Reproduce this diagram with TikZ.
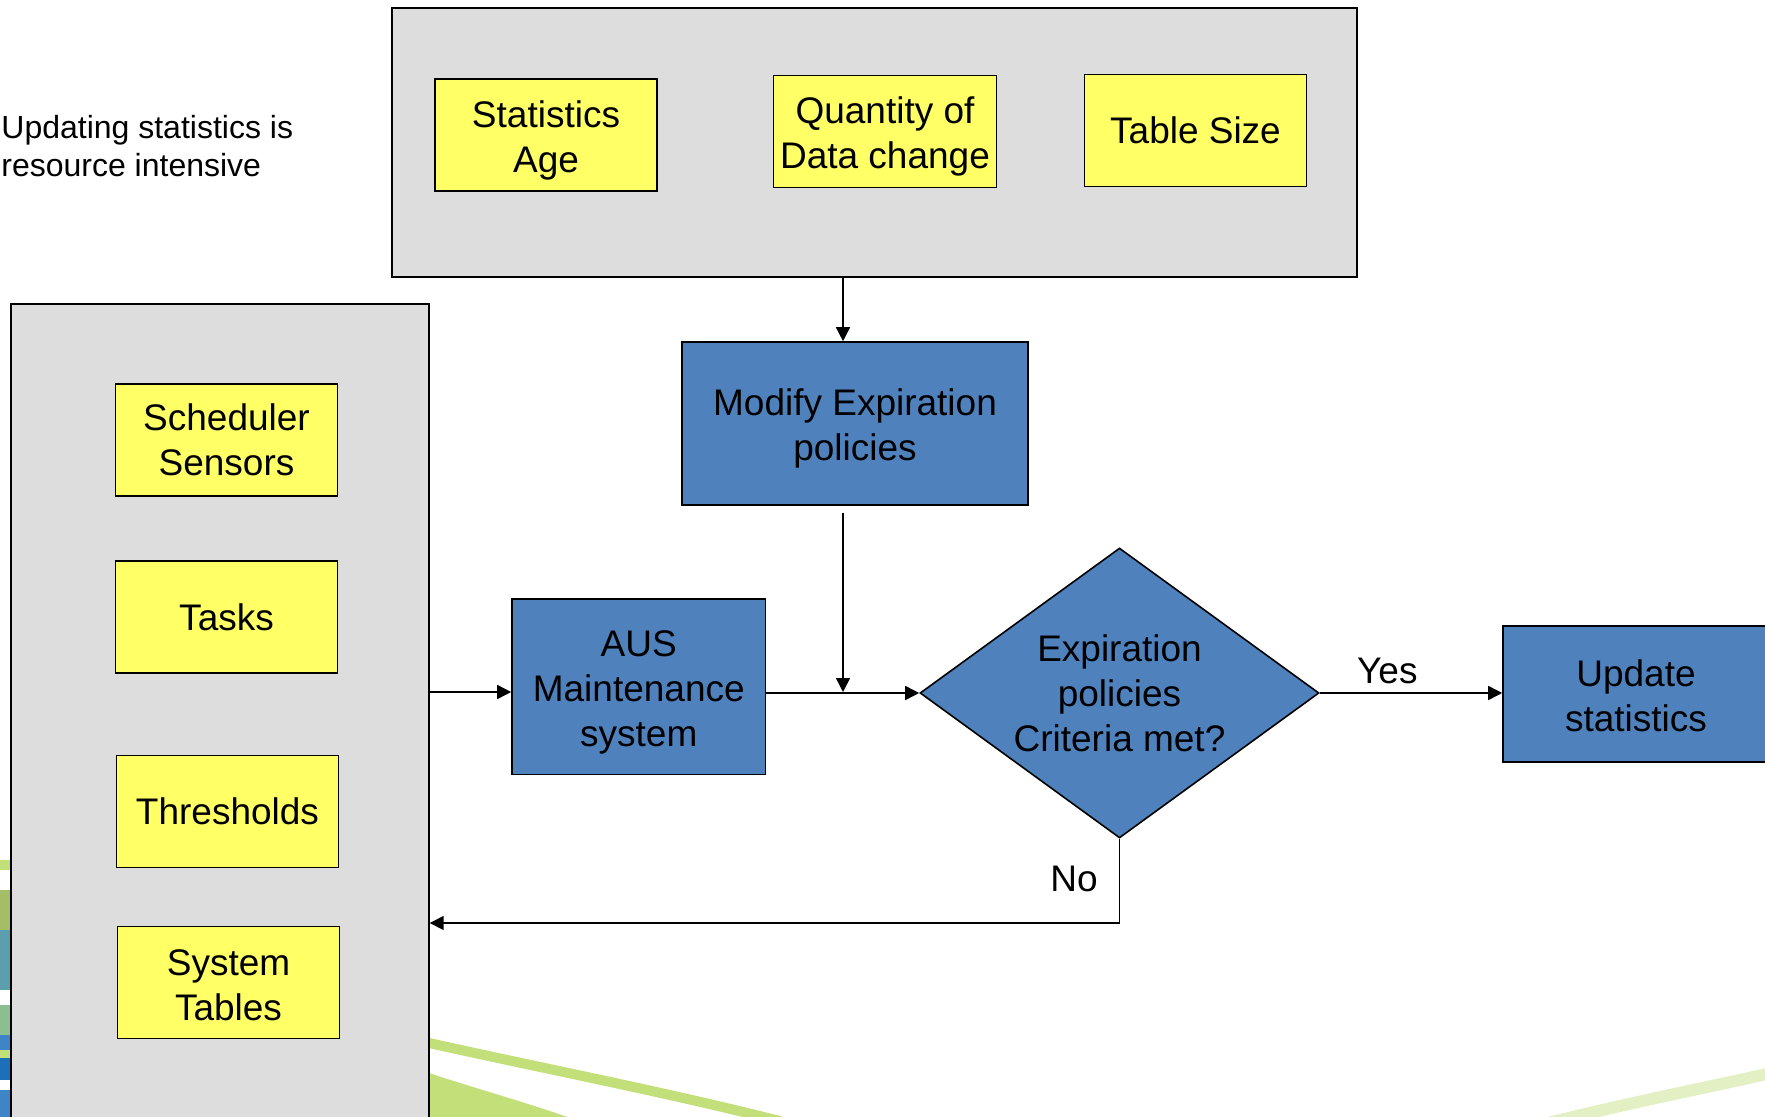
\documentclass[tikz,border=0pt]{standalone}
\usepackage{fontspec}
\setmainfont{Liberation Sans}
\usetikzlibrary{arrows.meta, shapes.geometric}

\definecolor{panelgray}{RGB}{221,221,221}
\definecolor{noteyellow}{RGB}{255,255,102}
\definecolor{stepblue}{RGB}{79,129,189}
\definecolor{swoosh}{RGB}{195,223,122}
\definecolor{paleswoosh}{RGB}{226,240,196}
\definecolor{edgeteal}{RGB}{91,158,174}
\definecolor{edgesage}{RGB}{141,190,143}
\definecolor{edgeblue}{RGB}{61,133,198}
\definecolor{edgedeep}{RGB}{28,111,184}

\tikzset{
	panel/.style={draw, fill=panelgray, line width=0.7pt},
	note/.style={draw, fill=noteyellow, line width=0.8pt, minimum width=111pt, minimum height=56pt, align=center, font=\fontsize{18.5}{22.5}\selectfont},
	proc/.style={draw, fill=stepblue, line width=0.8pt, align=center, font=\fontsize{18.5}{22.5}\selectfont},
	arr/.style={-{Triangle[length=7pt,width=7pt]}, line width=0.8pt},
}

\begin{document}
\begin{tikzpicture}[x=0.5pt, y=-0.5pt]
		\clip (0,0) rectangle (1765,1117);
		
		\fill[swoosh] (429,1073) .. controls (480,1090) and (530,1103) .. (590,1125) -- (420,1125) -- cycle;
		\draw[swoosh, line width=5pt] (429,1043) .. controls (560,1072) and (680,1095) .. (795,1125);
		\draw[paleswoosh, line width=6pt] (1540,1125) .. controls (1640,1100) and (1720,1085) .. (1775,1072);
		\fill[swoosh] (0,860) rectangle (11,870);
		\fill[swoosh!85!black] (0,890) rectangle (11,930);
		\fill[edgeteal] (0,930) rectangle (11,990);
		\fill[edgesage] (0,1005) rectangle (11,1035);
		\fill[edgeblue] (0,1035) rectangle (11,1050);
		\fill[swoosh] (0,1050) rectangle (11,1058);
		\fill[edgedeep] (0,1058) rectangle (11,1080);
		\fill[edgeblue] (0,1090) rectangle (11,1117);
		
		\node[anchor=west, align=left, inner sep=0pt, font=\fontsize{16}{19}\selectfont] (remark) at (1,146) {Updating statistics is\\resource intensive};
		
		\node[panel, minimum width=482.5pt, minimum height=134.5pt] (factors) at (874.5,142.5) {};
		\node[panel, minimum width=209pt, minimum height=420pt] (sources) at (220,724) {};
		
		\node[note, text height=41pt] (age) at (546,135) {Statistics\\Age};
		\node[note, text height=41pt] (quantity) at (885,131.5) {Quantity of\\Data change};
		\node[note] (size) at (1195.5,130.5) {Table Size};
		
		\node[note] (sched) at (226.5,440) {Scheduler\\Sensors};
		\node[note] (tasks) at (226.5,617) {Tasks};
		\node[note] (thresh) at (227.5,811.5) {Thresholds};
		\node[note, text height=38pt] (systab) at (228.5,982.5) {System\\Tables};
		
		\node[proc, text height=40.5pt, minimum width=173pt, minimum height=81.5pt] (modify) at (855,423.5) {Modify Expiration\\policies};
		\node[proc, text height=64pt, minimum width=126.75pt, minimum height=87.75pt] (aus) at (638.75,686.75) {AUS\\Maintenance\\system};
		\node[proc, diamond, aspect=1.38, inner sep=0pt, minimum width=199.5pt, minimum height=145pt] (dia) at (1119.5,693) {Expiration\\policies\\Criteria met?};
		\node[proc, text height=38pt, minimum width=133pt, minimum height=68pt] (update) at (1636,694) {Update\\statistics};
		
		\coordinate (join) at (843,692);
		\coordinate (back) at (1119.5,923);
		
		\draw[arr] (join |- factors.south) -- (join |- modify.north);
		\draw[arr] (join |- modify.south) ++(0,7) -- (join);
		\draw[arr] (sources.east |- join) -- (aus.west |- join);
		\draw[arr] (aus.east |- dia.west) -- (dia.west);
		\draw[arr] (dia.east) -- (update.west |- dia.east) node[pos=0.37, above=1pt, font=\fontsize{18.5}{22.5}\selectfont] (yes) {Yes};
		\draw[arr] (dia.south) -- (back) -- (sources.east |- back);
		\node[font=\fontsize{18.5}{22.5}\selectfont] (no) at (1074,879) {No};
	\end{tikzpicture}
\end{document}
